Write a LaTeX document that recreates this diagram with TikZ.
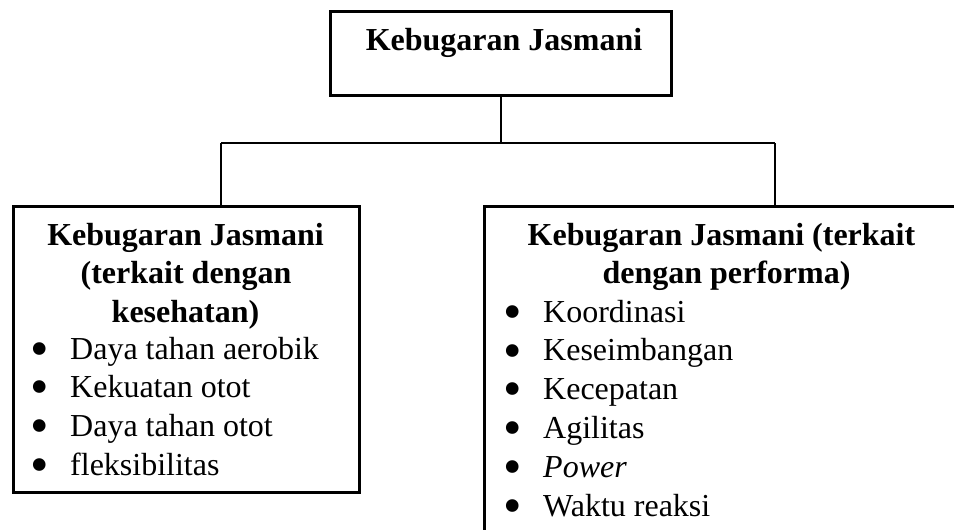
\documentclass[tikz,border=0pt]{standalone}
\usepackage{fontspec}
\usepackage{graphicx}
\setmainfont{Liberation Serif}
\newcommand{\bigbul}{\llap{\raisebox{-7.6pt}{\scalebox{1.65}{\textbullet}}\hspace{20.75pt}}}
\begin{document}
\begin{tikzpicture}[x=1pt,y=-1pt,
  box/.style={draw=black,line width=3pt,rectangle,inner sep=0pt},
  conn/.style={draw=black,line width=1.3pt},
  hd/.style={inner sep=0pt,anchor=base,font=\fontsize{32}{38.5}\selectfont\bfseries},
  li/.style={inner sep=0pt,anchor=base west,font=\fontsize{32}{38.5}\selectfont}]
\useasboundingbox (0,0) rectangle (954,530);
\clip (0,0) rectangle (954,530);
% boxes
\node[box,minimum width=341pt,minimum height=84pt] (top) at (501,53.5) {};
\node[box,minimum width=346pt,minimum height=286pt] (left) at (186.5,349.5) {};
\node[box,minimum width=475.5pt,minimum height=363.5pt] (right) at (722.25,388.25) {};
% connectors
\coordinate (j) at (501,143);
\coordinate (jl) at (221,143);
\coordinate (jr) at (775,143);
\draw[conn] (top.south) -- (j);
\draw[conn] (jl) -- (jr);
\draw[conn] (jl) -- (jl |- left.north);
\draw[conn] (jr) -- (jr |- right.north);
% top text
\node[hd] (t0) at (504,50) {Kebugaran Jasmani};
% left box
\node[hd] (l1) at (185.5,245) {Kebugaran Jasmani};
\node[hd] (l2) at (186,283.5) {(terkait dengan};
\node[hd] (l3) at (185.5,322) {kesehatan)};
\node[li] (la) at (70,359) {\bigbul Daya tahan aerobik};
\node[li] (lb) at (70,397) {\bigbul Kekuatan otot};
\node[li] (lc) at (70,436) {\bigbul Daya tahan otot};
\node[li] (ld) at (70,475) {\bigbul fleksibilitas};
% right box
\node[hd] (r1) at (721.5,245) {Kebugaran Jasmani (terkait};
\node[hd] (r2) at (726.5,283.5) {dengan performa)};
\node[li] (ra) at (543,322) {\bigbul Koordinasi};
\node[li] (rb) at (543,360.5) {\bigbul Keseimbangan};
\node[li] (rc) at (543,399) {\bigbul Kecepatan};
\node[li] (rd) at (543,438) {\bigbul Agilitas};
\node[li] (re) at (543,477) {\bigbul \textit{Power}};
\node[li] (rf) at (543,516) {\bigbul Waktu reaksi};
\end{tikzpicture}
\end{document}
